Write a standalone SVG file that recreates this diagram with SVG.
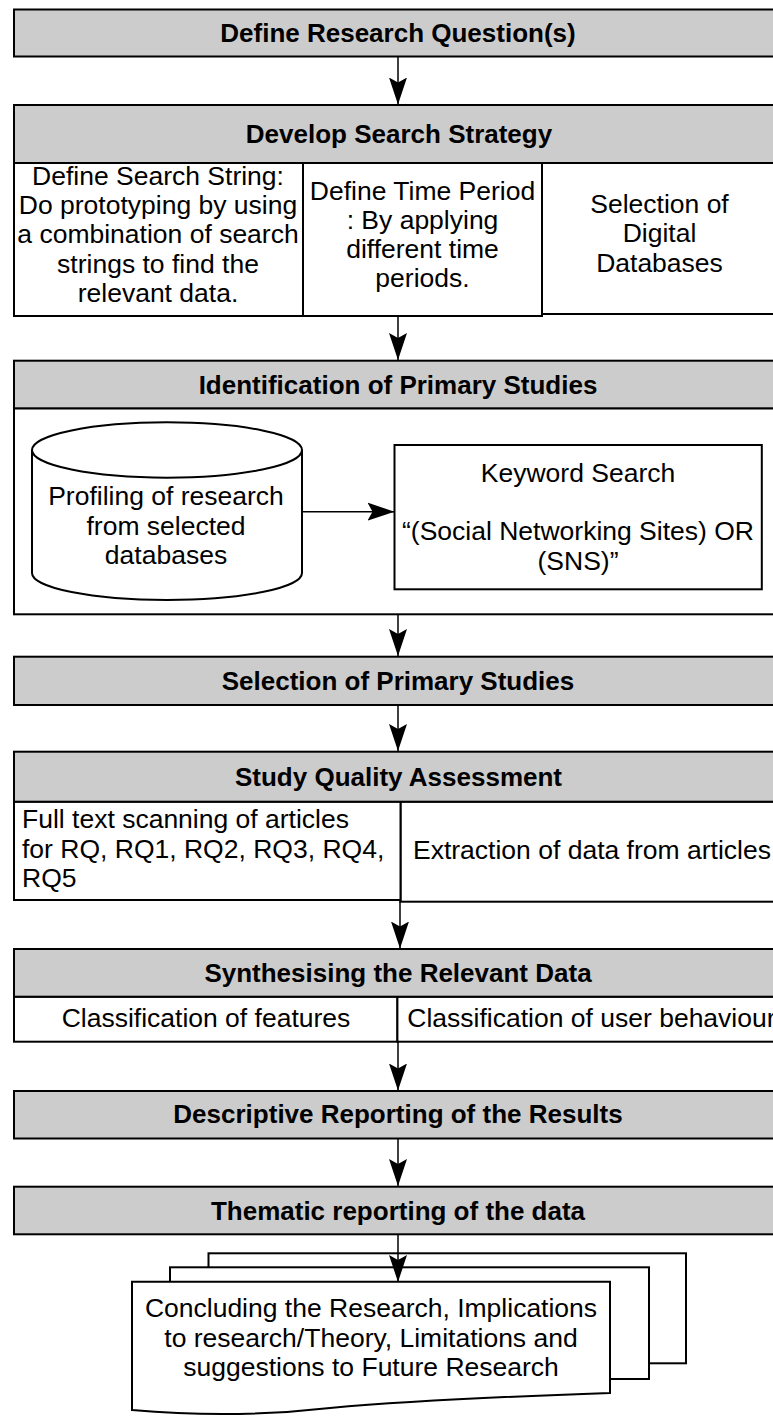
<svg xmlns="http://www.w3.org/2000/svg" width="773" height="1416" viewBox="0 0 773 1416">
<style>
.hdr{fill:#cccccc;stroke:#000;stroke-width:2}
.box{fill:#fff;stroke:#000;stroke-width:2}
.b{font-family:"Liberation Sans",Arial,sans-serif;font-weight:bold;font-size:26px;fill:#000;text-anchor:middle}
.t{font-family:"Liberation Sans",Arial,sans-serif;font-size:26.5px;fill:#000;text-anchor:middle}
.l{text-anchor:start}
.con{fill:none;stroke:#000;stroke-width:1.5}
</style>
<defs>
<marker id="ah" markerUnits="userSpaceOnUse" viewBox="0 0 27 20" markerWidth="27" markerHeight="20" refX="27" refY="10" orient="auto">
<path d="M0,1 L27,10 L0,19 L5,10 Z" fill="#000"/>
</marker>
</defs>
<rect width="773" height="1416" fill="#fff"/>

<g id="n1">
<rect class="hdr" x="14" y="9.5" width="780" height="47"/>
<text class="b" x="398" y="41.5">Define Research Question(s)</text>
</g>

<g id="n2">
<rect class="hdr" x="14" y="105" width="780" height="58"/>
<text class="b" x="399" y="143">Develop Search Strategy</text>
<rect class="box" x="542" y="163" width="252" height="151"/>
<rect class="box" x="14" y="163" width="289" height="153"/>
<rect class="box" x="303" y="163" width="239" height="153"/>
<text class="t" x="158" y="185">Define Search String:</text>
<text class="t" x="158" y="214">Do prototyping by using</text>
<text class="t" x="158" y="243">a combination of search</text>
<text class="t" x="158" y="272.5">strings to find the</text>
<text class="t" x="158" y="301.5">relevant data.</text>
<text class="t" x="422.5" y="199.5">Define Time Period</text>
<text class="t" x="422.5" y="228.5">: By applying</text>
<text class="t" x="422.5" y="258">different time</text>
<text class="t" x="422.5" y="287">periods.</text>
<text class="t" x="659.5" y="213">Selection of</text>
<text class="t" x="659.5" y="242">Digital</text>
<text class="t" x="659.5" y="271.5">Databases</text>
</g>

<g id="n3">
<rect class="box" x="14" y="408.3" width="780" height="206"/>
<rect class="hdr" x="14" y="360.7" width="780" height="47.6"/>
<text class="b" x="398" y="393.5">Identification of Primary Studies</text>
<path class="box" d="M32,450 L32,573 A135,27 0 0 0 302,573 L302,450 A135,27.7 0 0 0 32,450 Z"/>
<path class="box" style="fill:none" d="M32,450 A135,27.7 0 0 0 302,450"/>
<text class="t" x="166" y="505">Profiling of research</text>
<text class="t" x="166" y="535">from selected</text>
<text class="t" x="166" y="563.5">databases</text>
</g>

<g id="n3b">
<rect class="box" x="394.5" y="445" width="367.3" height="144.3"/>
<text class="t" x="578" y="481.5">Keyword Search</text>
<text class="t" x="578" y="540">“(Social Networking Sites) OR</text>
<text class="t" x="578" y="570">(SNS)”</text>
</g>

<g id="n4">
<rect class="hdr" x="14" y="656.7" width="780" height="48.3"/>
<text class="b" x="398" y="690">Selection of Primary Studies</text>
</g>

<g id="n5">
<rect class="box" x="400.5" y="801.7" width="393.5" height="100"/>
<rect class="box" x="14" y="801.7" width="386.5" height="98.3"/>
<rect class="hdr" x="14" y="751.7" width="780" height="50"/>
<text class="b" x="398.5" y="785.5">Study Quality Assessment</text>
<text class="t l" x="22" y="828.3">Full text scanning of articles</text>
<text class="t l" x="22" y="858.3">for RQ, RQ1, RQ2, RQ3, RQ4,</text>
<text class="t l" x="22" y="886.7">RQ5</text>
<text class="t l" x="413" y="859.3">Extraction of data from articles</text>
</g>

<g id="n6">
<rect class="box" x="14" y="996.7" width="383.4" height="45"/>
<rect class="box" x="397.4" y="996.7" width="396.6" height="45"/>
<rect class="hdr" x="14" y="949" width="780" height="47.7"/>
<text class="b" x="398" y="981.7">Synthesising the Relevant Data</text>
<text class="t" x="206" y="1026.7">Classification of features</text>
<text class="t l" x="407.3" y="1026.7">Classification of user behaviour</text>
</g>

<g id="n7">
<rect class="hdr" x="14" y="1091" width="780" height="47.5"/>
<text class="b" x="398" y="1123.3">Descriptive Reporting of the Results</text>
</g>

<g id="n8">
<rect class="hdr" x="14" y="1186.7" width="780" height="47.6"/>
<text class="b" x="398" y="1219.5">Thematic reporting of the data</text>
</g>

<g id="n9">
<rect class="box" x="208.5" y="1253.3" width="477.5" height="110"/>
<rect class="box" x="170" y="1267.3" width="479" height="111.7"/>
<path class="box" d="M132,1281.7 L610,1281.7 L610,1393 C520,1396 420,1400 330,1408 C260,1416 200,1416 132,1410 Z"/>
<text class="t" x="371" y="1317">Concluding the Research, Implications</text>
<text class="t" x="371" y="1347">to research/Theory, Limitations and</text>
<text class="t" x="371" y="1375.5">suggestions to Future Research</text>
</g>

<g id="connectors">
<line class="con" x1="398" y1="57" x2="398" y2="104.5" marker-end="url(#ah)"/>
<line class="con" x1="398" y1="316" x2="398" y2="360" marker-end="url(#ah)"/>
<line class="con" x1="302" y1="511.7" x2="394.5" y2="511.7" marker-end="url(#ah)"/>
<line class="con" x1="398" y1="614.5" x2="398" y2="656" marker-end="url(#ah)"/>
<line class="con" x1="398" y1="705" x2="398" y2="751" marker-end="url(#ah)"/>
<line class="con" x1="400" y1="900" x2="400" y2="948.5" marker-end="url(#ah)"/>
<line class="con" x1="398" y1="1041.7" x2="398" y2="1090.5" marker-end="url(#ah)"/>
<line class="con" x1="398" y1="1138.5" x2="398" y2="1186" marker-end="url(#ah)"/>
<line class="con" x1="398" y1="1234.3" x2="398" y2="1282" marker-end="url(#ah)"/>
</g>
</svg>
